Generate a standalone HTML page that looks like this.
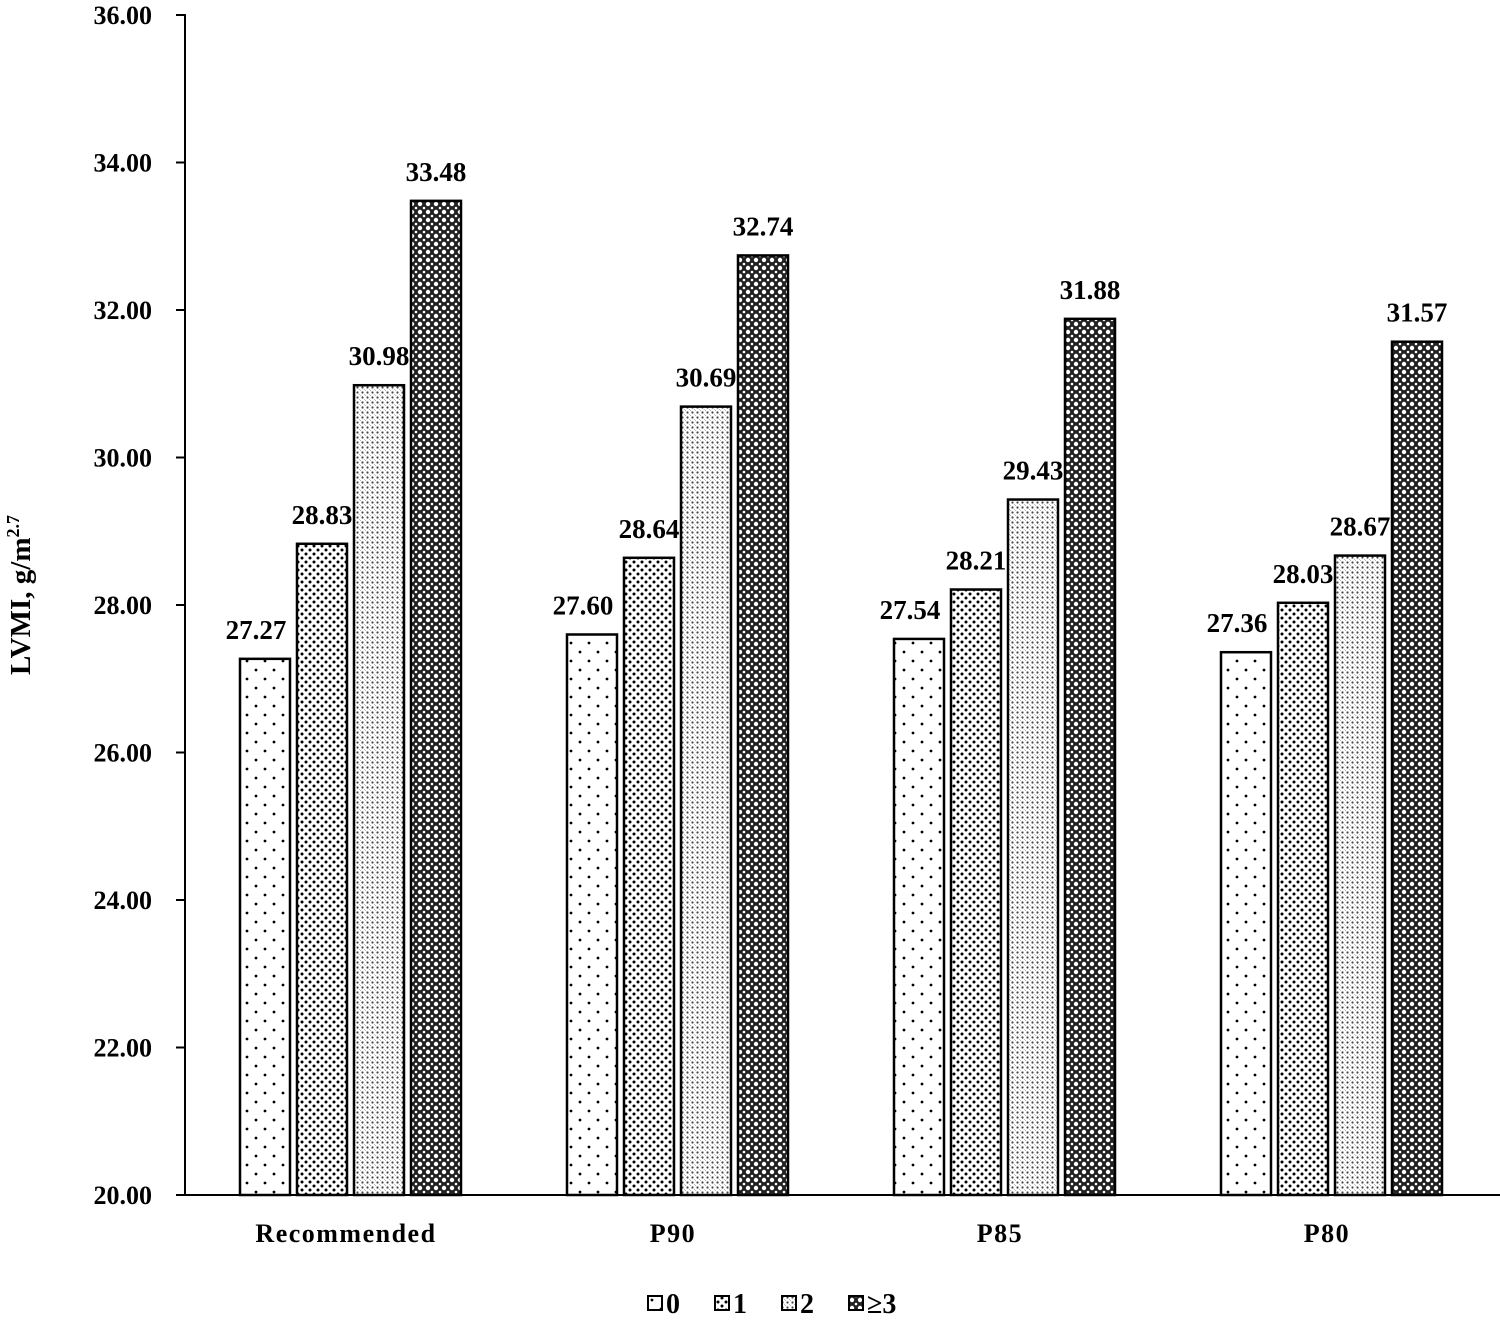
<!DOCTYPE html>
<html><head><meta charset="utf-8"><style>
body{margin:0;background:#fff}
svg{display:block;font-family:"Liberation Serif",serif;font-weight:bold}
</style></head><body>
<svg id="chart" width="1500" height="1324" viewBox="0 0 1500 1324">
<defs>
<pattern id="p0" width="18" height="18" patternUnits="userSpaceOnUse"><rect width="18" height="18" fill="#fff"/><circle cx="4" cy="4" r="1.4" fill="#000"/><circle cx="13" cy="13" r="1.4" fill="#000"/></pattern>
<pattern id="p1" width="8" height="8" patternUnits="userSpaceOnUse"><rect width="8" height="8" fill="#fff"/><circle cx="2" cy="2" r="1.5" fill="#000"/><circle cx="6" cy="6" r="1.5" fill="#000"/></pattern>
<pattern id="p2" width="5" height="5" patternUnits="userSpaceOnUse"><rect width="5" height="5" fill="#fff"/><circle cx="2.5" cy="2.5" r="1.1" fill="#444"/><circle cx="0" cy="0" r="0.8" fill="#666"/><circle cx="5" cy="5" r="0.8" fill="#666"/></pattern>
<pattern id="p3" width="8" height="8" patternUnits="userSpaceOnUse"><rect width="8" height="8" fill="#222"/><circle cx="4" cy="4" r="2.2" fill="#fff"/><circle cx="0" cy="0" r="1.3" fill="#fff"/><circle cx="8" cy="0" r="1.3" fill="#fff"/><circle cx="0" cy="8" r="1.3" fill="#fff"/><circle cx="8" cy="8" r="1.3" fill="#fff"/></pattern>
</defs>
<g id="plot"></g>
</svg>
<script>
const categories=["Recommended","P90","P85","P80"];
const series0=[27.27,27.60,27.54,27.36];
const series1=[28.83,28.64,28.21,28.03];
const series2=[30.98,30.69,29.43,28.67];
const series3=[33.48,32.74,31.88,31.57];
const seriesNames=["0","1","2","≥3"];
const yTicks=[20,22,24,26,28,30,32,34,36];
const NS="http://www.w3.org/2000/svg";
const g=document.getElementById('plot');
const y0=1195,pxu=73.75,axX=185;
function yS(v){return y0-(v-20)*pxu;}
function xC(i){return 350+i*327;}
function mk(t,a,txt){const e=document.createElementNS(NS,t);for(const k in a)e.setAttribute(k,a[k]);if(txt!==undefined)e.textContent=txt;g.appendChild(e);return e;}
let e=mk('line',{x1:axX,y1:yS(36)-1,x2:axX,y2:y0,stroke:'#000','stroke-width':2});


e=mk('line',{x1:axX,y1:y0,x2:1500,y2:y0,stroke:'#000','stroke-width':2});


yTicks.forEach(t=>{
 let l=mk('line',{x1:axX-9,y1:yS(t),x2:axX,y2:yS(t),stroke:'#000','stroke-width':2});
 
 
 let tx=mk('text',{x:152,y:yS(t)+9,'text-anchor':'end','font-size':26},t.toFixed(2));
 
 
});
e=mk('text',{x:30,y:595,'text-anchor':'middle','font-size':29,transform:'rotate(-90 30 595)'});
e.innerHTML='LVMI, g/m<tspan dy="-11" font-size="18">2.7</tspan>';


const all=[series0,series1,series2,series3];
categories.forEach((c,i)=>{
 let tx=mk('text',{x:xC(i)-4,y:1242,'text-anchor':'middle','font-size':26,'letter-spacing':'1.5'},c);
 
 
 all.forEach((s,j)=>{
  const x=xC(i)-110+j*57, v=s[i];
  let r=mk('rect',{x:x,y:yS(v),width:50,height:y0-yS(v),fill:'url(#p'+j+')',stroke:'#000','stroke-width':2.5});
  
  
  let vl=mk('text',{x:x+25-(j==0?9:0),y:yS(v)-20,'text-anchor':'middle','font-size':27},v.toFixed(2));
  
  
 });
});
seriesNames.forEach((n,j)=>{
 const x=648+j*67;
 let r=mk('rect',{x:x,y:1296,width:14,height:14,fill:'url(#p'+j+')',stroke:'#000','stroke-width':2});
 
 
 let t=mk('text',{x:x+18,y:1313,'font-size':28},n);
 
 
});
</script>
</body></html>
